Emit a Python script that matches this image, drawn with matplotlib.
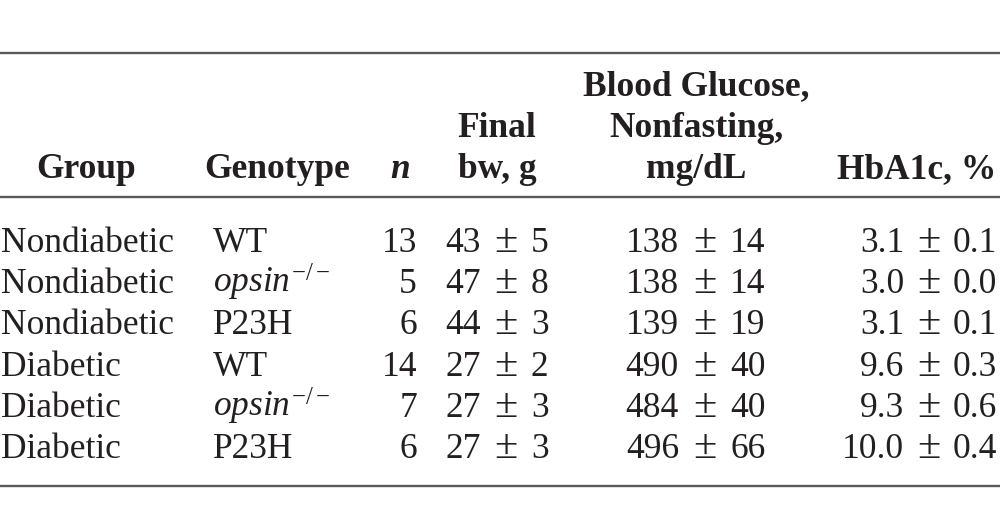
import matplotlib
matplotlib.use("Agg")
import matplotlib.pyplot as plt

plt.rcParams['mathtext.fontset'] = 'custom'
plt.rcParams['mathtext.rm'] = 'Liberation Serif'
plt.rcParams['mathtext.it'] = 'Liberation Serif:italic'
plt.rcParams['mathtext.bf'] = 'Liberation Serif:bold'

# ---- data ----
groups = ["Nondiabetic", "Nondiabetic", "Nondiabetic", "Diabetic", "Diabetic", "Diabetic"]
genotypes = ["WT", "opsin", "P23H", "WT", "opsin", "P23H"]
n_values = [13, 5, 6, 14, 7, 6]
bw_mean = [43, 47, 44, 27, 27, 27]
bw_sd = [5, 8, 3, 2, 3, 3]
glucose_mean = [138, 138, 139, 490, 484, 496]
glucose_sd = [14, 14, 19, 40, 40, 66]
hba1c_mean = [3.1, 3.0, 3.1, 9.6, 9.3, 10.0]
hba1c_sd = [0.1, 0.0, 0.1, 0.3, 0.6, 0.4]

W, H = 1000, 529
fig = plt.figure(figsize=(W / 100, H / 100), dpi=100)
ax = fig.add_axes([0, 0, 1, 1])
ax.set_xlim(0, W)
ax.set_ylim(H, 0)
ax.axis('off')

FS = 25.5
TC = '#231f20'
LC = '#5a5a5a'
font = 'Liberation Serif'

# rules
for y in (53, 196.5, 486):
    ax.plot([0, W], [y, y], color=LC, lw=1.7, solid_capstyle='butt')

def t(x, y, s, ha='left', bold=False, italic=False, fs=FS):
    ax.text(x, y, s, ha=ha, va='baseline', fontsize=fs, color=TC, family=font,
            fontweight='bold' if bold else 'normal',
            fontstyle='italic' if italic else 'normal')

# header
t(86, 178, "Group", ha='center', bold=True)
t(277, 178, "Genotype", ha='center', bold=True)
t(400, 178, "n", ha='center', bold=True, italic=True)
t(497, 137, "Final", ha='center', bold=True)
t(497, 178, "bw, g", ha='center', bold=True)
t(696, 95, "Blood Glucose,", ha='center', bold=True)
t(696, 137, "Nonfasting,", ha='center', bold=True)
t(696, 178, "mg/dL", ha='center', bold=True)
t(996, 178, "HbA1c, %", ha='right', bold=True)

def pm(y, mean, sd, x_mean, x_pm, x_sd):
    t(x_mean, y, mean, ha='right')
    t(x_pm, y, "±", ha='center', fs=FS * 1.2)
    t(x_sd, y, sd, ha='left')

# rows
y0, dy = 252, 41.2
for i in range(len(groups)):
    y = y0 + i * dy
    t(1, y, groups[i])
    g = genotypes[i]
    if g == "opsin":
        t(213, y, r'$\mathit{opsin}^{-/-}$')
    else:
        t(213, y, g)
    t(417, y, f"{n_values[i]}", ha='right')
    pm(y, f"{bw_mean[i]}", f"{bw_sd[i]}", 481, 506, 531)
    pm(y, f"{glucose_mean[i]}", f"{glucose_sd[i]}", 679, 705, 730)
    pm(y, f"{hba1c_mean[i]:.1f}", f"{hba1c_sd[i]:.1f}", 904, 929, 953)

fig.savefig("out.png", dpi=100)
